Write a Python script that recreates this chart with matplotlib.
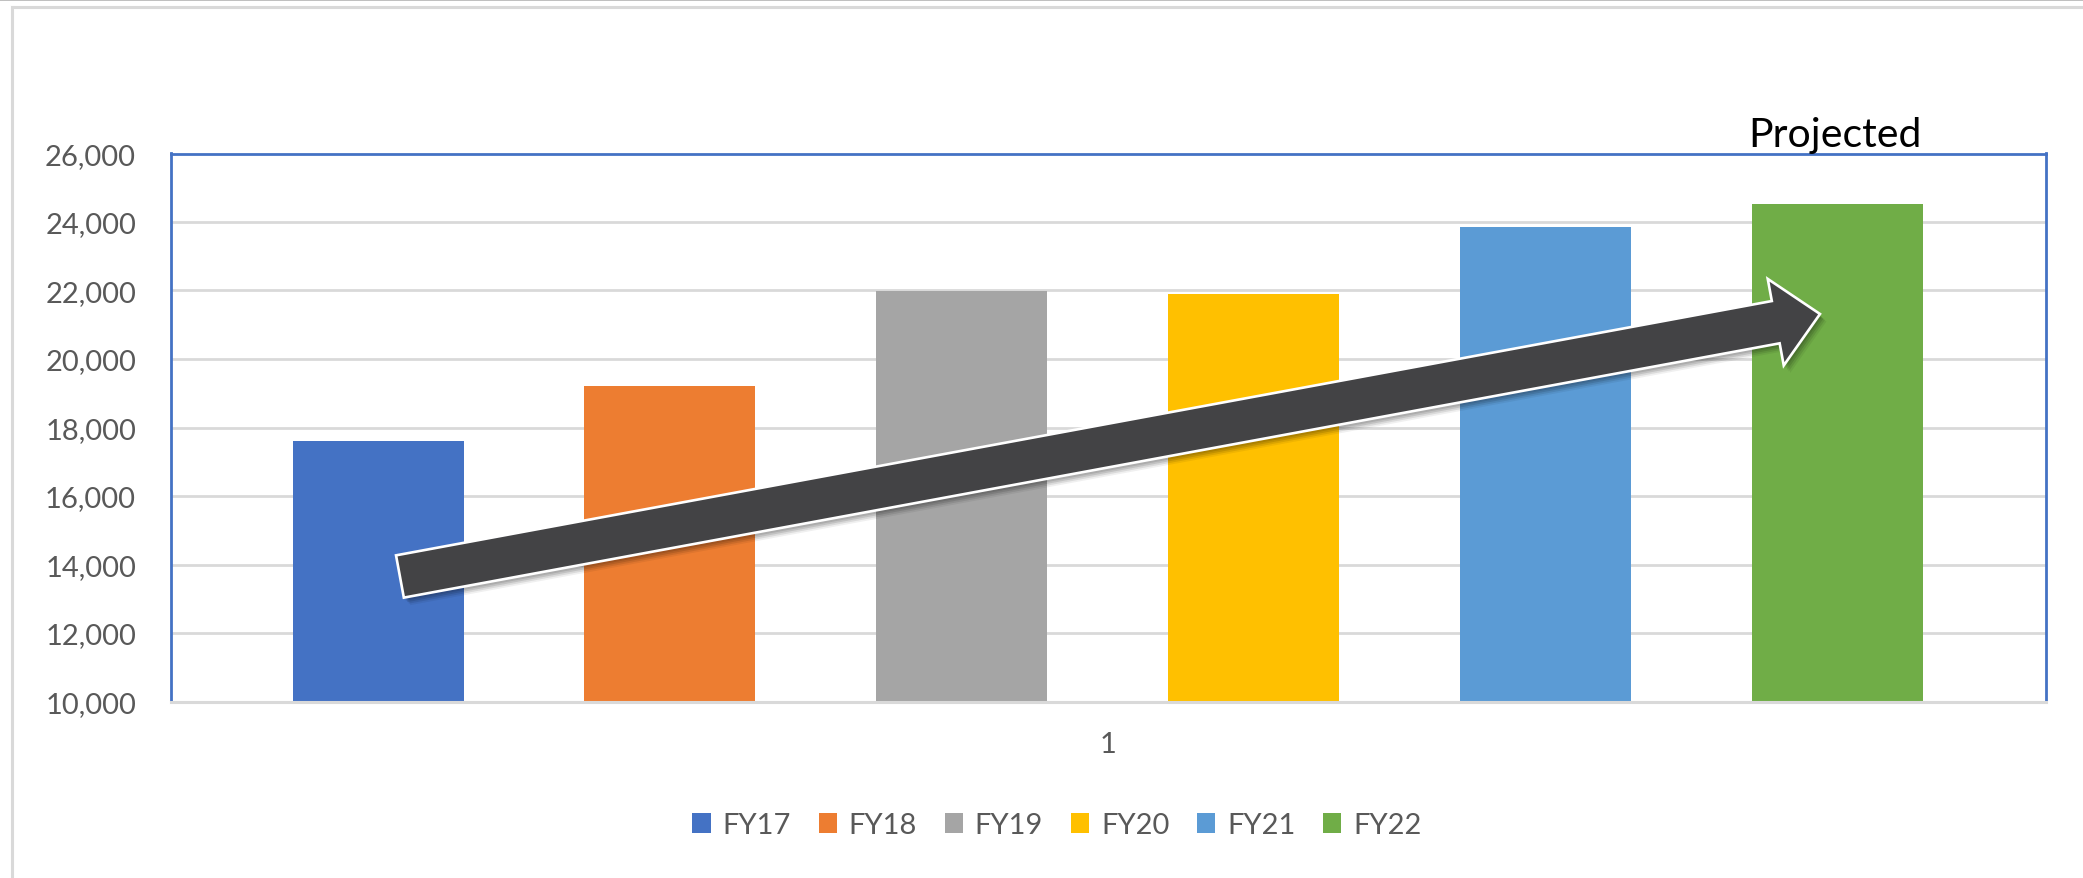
import numpy as np
import matplotlib
matplotlib.use('Agg')
import matplotlib.pyplot as plt
from matplotlib.patches import Polygon
from matplotlib.lines import Line2D
from matplotlib.transforms import IdentityTransform
from matplotlib.ticker import FuncFormatter

# ---- data ----
series = ['FY17', 'FY18', 'FY19', 'FY20', 'FY21', 'FY22']
values = [17620, 19200, 21990, 21900, 23860, 24540]
colors = ['#4472C4', '#ED7D31', '#A5A5A5', '#FFC000', '#5B9BD5', '#70AD47']
category_labels = ['1']
y_ticks = [10000, 12000, 14000, 16000, 18000, 20000, 22000, 24000, 26000]
annotation = 'Projected'
# trend arrow anchored in data space (tail near FY17, tip on FY22)
arrow_tail = (0.075, 13650)
arrow_tip = (4.94, 21314)

plt.rcParams['font.family'] = ['Lato', 'DejaVu Sans']

W, H = 2083, 879
fig = plt.figure(figsize=(W / 100, H / 100), dpi=100)
fig.patch.set_facecolor('white')
ax = fig.add_axes([170.5 / W, 1 - 702.5 / H, (2046.5 - 170.5) / W, (702.5 - 154.5) / H])

x = np.arange(len(series))
bars = ax.bar(x, values, width=0.586, color=colors, zorder=2)
for b, s in zip(bars.patches, series):
    b.set_label(s)

ax.set_xlim(-0.711, 5.716)
ax.set_ylim(y_ticks[0], y_ticks[-1])
ax.set_yticks(y_ticks)
ax.yaxis.set_major_formatter(FuncFormatter(lambda v, p: f'{int(v):,}'))
ax.set_xticks([(len(series) - 1) / 2])
ax.set_xticklabels(category_labels)
ax.tick_params(length=0, labelsize=21, labelcolor='#595959')
ax.tick_params(axis='y', pad=24.8)
ax.tick_params(axis='x', pad=21)

ax.set_axisbelow(True)
ax.grid(axis='y', color='#D9D9D9', linewidth=2.0)
ax.grid(axis='x', visible=False)
for side in ['left', 'top', 'right']:
    ax.spines[side].set_color('#4472C4')
    ax.spines[side].set_linewidth(2.0)
ax.spines['bottom'].set_color('#D9D9D9')
ax.spines['bottom'].set_linewidth(2.2)

ax.annotate(annotation, xy=(x[-1], y_ticks[-1]), xytext=(-1.5, 5.4),
            textcoords='offset points', ha='center', va='baseline',
            fontsize=29.5, color='black', annotation_clip=False)

# ---- block arrow (display coordinates computed from data anchors) ----
tail = ax.transData.transform(arrow_tail)
tip = ax.transData.transform(arrow_tip)
d = tip - tail
L = np.hypot(*d)
u = d / L
n = np.array([-u[1], u[0]])
hw, hhw, hl = 21.5, 44.0, 45.0
base = tip - u * hl
pts = np.array([tail + n * hw, base + n * hw, base + n * hhw, tip,
                base - n * hhw, base - n * hw, tail - n * hw])
for off, a in [((2, -3), 0.11), ((3.5, -4.5), 0.11), ((5, -6), 0.09), ((6.5, -7.5), 0.06)]:
    ax.add_patch(Polygon(pts + np.array(off), closed=True, transform=IdentityTransform(),
                         facecolor='black', edgecolor='none', alpha=a, zorder=3, clip_on=False))
ax.add_patch(Polygon(pts, closed=True, transform=IdentityTransform(),
                     facecolor='#434345', edgecolor='white', linewidth=1.9,
                     joinstyle='miter', zorder=4, clip_on=False))

# ---- legend ----
fig.legend(bars.patches, series, loc='center', bbox_to_anchor=(1057 / W, 1 - 826 / H),
           ncol=6, frameon=False, fontsize=21, handlelength=0.62, handleheight=0.69,
           handletextpad=0.41, columnspacing=0.95, labelcolor='#595959')

# ---- chart area borders ----
fig.add_artist(Line2D([0, 1], [1 - 0.8 / H] * 2, transform=fig.transFigure,
                      color='#BFBFBF', linewidth=1.4))
fig.add_artist(Line2D([11.5 / W, 1], [1 - 7.5 / H] * 2, transform=fig.transFigure,
                      color='#D9D9D9', linewidth=2.2))
fig.add_artist(Line2D([11.5 / W] * 2, [1 - 7.5 / H, 0], transform=fig.transFigure,
                      color='#D9D9D9', linewidth=2.2))

fig.savefig('out.png', dpi=100, facecolor='white')
